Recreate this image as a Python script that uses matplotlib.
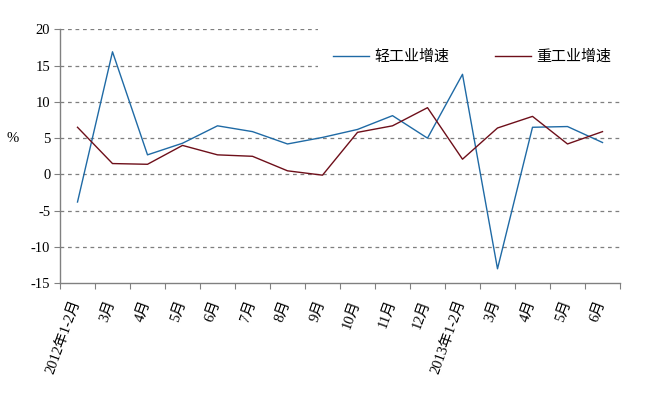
import numpy as np
import matplotlib
matplotlib.use('Agg')
import matplotlib.pyplot as plt
from matplotlib.lines import Line2D
from matplotlib.patches import Rectangle

plt.rcParams['font.family'] = ['Liberation Serif', 'Noto Sans CJK SC', 'DejaVu Sans']

categories = ['2012年1-2月', '3月', '4月', '5月', '6月', '7月', '8月', '9月',
              '10月', '11月', '12月', '2013年1-2月', '3月', '4月', '5月', '6月']
light = [-3.8, 16.9, 2.7, 4.3, 6.7, 5.9, 4.2, 5.1,
         6.2, 8.1, 5.0, 13.8, -13.0, 6.5, 6.6, 4.4]
heavy = [6.5, 1.5, 1.4, 4.0, 2.7, 2.5, 0.5, -0.1,
         5.8, 6.7, 9.2, 2.1, 6.4, 8.0, 4.2, 5.9]
yticks = [-15, -10, -5, 0, 5, 10, 15, 20]

blue = '#1f6aa5'
red = '#6e0f1a'
axis_gray = '#808080'

fig = plt.figure(figsize=[6.5, 3.96], dpi=100)
ax = fig.add_axes([60 / 650, 1 - 283.3 / 396, 560 / 650, 254 / 396])

n = len(categories)
x = np.arange(n) + 0.5
ax.plot(x, light, '-', color=blue, lw=1.0)
ax.plot(x, heavy, '-', color=red, lw=1.0)

ax.set_xlim(0, n)
ax.set_ylim(-15, 20)
for y in yticks[1:]:
    ax.axhline(y, color='#7f7f7f', lw=0.9, ls=(0, (3, 3)), zorder=0)

for s in ['top', 'right']:
    ax.spines[s].set_visible(False)
for s in ['left', 'bottom']:
    ax.spines[s].set_color(axis_gray)
    ax.spines[s].set_linewidth(1.0)

ax.set_yticks(yticks)
ax.set_yticklabels([str(v) for v in yticks], fontsize=10.5)
ax.tick_params(axis='y', length=4, color=axis_gray, pad=3)

ax.set_xticks(np.arange(n + 1))
ax.set_xticklabels([])
ax.tick_params(axis='x', length=4, color=axis_gray, direction='out')
for xi, lab in zip(x, categories):
    ax.text(xi - 0.02, -17.4, lab, rotation=70, rotation_mode='anchor',
            ha='right', va='center', fontsize=10.5,
            family=['Liberation Serif', 'Noto Sans CJK SC'])

fig.text(13 / 650, 1 - 138 / 396, '%', fontsize=10.5, ha='center', va='center')

# white legend area hides the right part of the top gridlines
fig.patches.append(Rectangle((318 / 650, 1 - 72 / 396), 304 / 650, 52 / 396,
                             transform=fig.transFigure, facecolor='white',
                             edgecolor='none', zorder=1))

handles = [Line2D([], [], color=blue, lw=1.0),
           Line2D([], [], color=red, lw=1.0)]
leg = fig.legend(handles, ['轻工业增速', '重工业增速'], ncol=2,
                 loc='center', bbox_to_anchor=(472 / 650, 1 - 57 / 396),
                 frameon=False, handlelength=2.4,
                 columnspacing=3.0, handletextpad=0.4,
                 prop={'family': ['Noto Sans CJK SC'], 'size': 10.8})
leg.set_zorder(2)

fig.savefig('out.png', dpi=100)
